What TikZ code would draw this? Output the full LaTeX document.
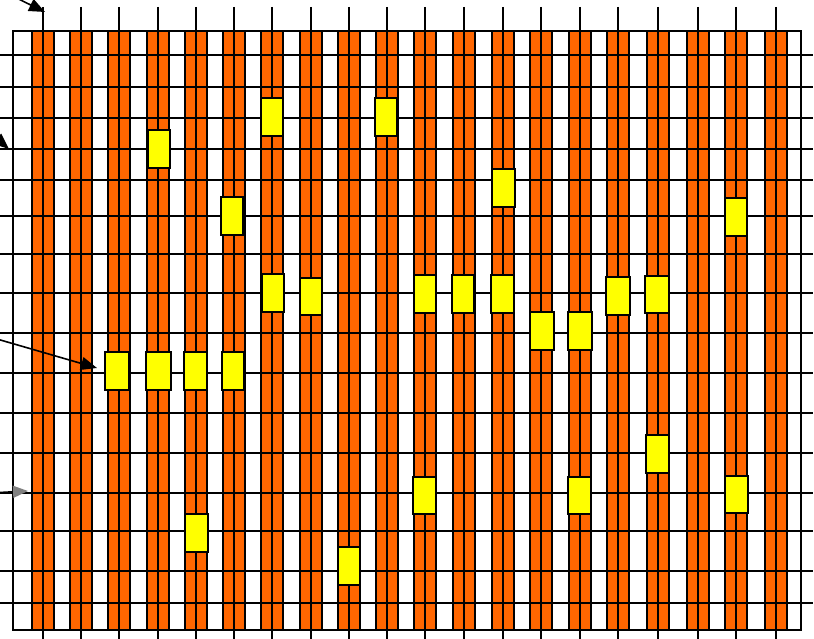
\documentclass[tikz,border=0pt]{standalone}
\usetikzlibrary{arrows.meta}
\definecolor{barorange}{HTML}{FF6600}
\definecolor{boxyellow}{HTML}{FFFF00}
\definecolor{headgray}{HTML}{808080}
\begin{document}
\begin{tikzpicture}[x=1pt,y=-1pt,
  bar/.style={fill=barorange,draw=black,line width=1.5pt},
  gridline/.style={draw=black,line width=2pt},
  ybox/.style={fill=boxyellow,draw=black,line width=1.5pt},
  pointer/.style={draw=black,line width=1.6pt,-{Triangle[length=16pt,width=13pt]}},
  graypointer/.style={draw=black,line width=1.6pt,-{Triangle[length=15pt,width=12pt,fill=headgray,color=headgray]}}]
\useasboundingbox (0,0) rectangle (814,639);
\clip (0,0) rectangle (814,639);
\fill[white] (0,0) rectangle (814,639);
% orange bars
\foreach \c in {43,81,119,158,196,234,272,311,349,387,425,464,503,541,580,618,658,698,736,776}
  \draw[bar] (\c-11,31) rectangle (\c+11,630);
% horizontal lines
\foreach \y in {55,87,118,149,180,216,254,293,333,373,413,453,493,531,571,603}
  \draw[gridline] (0,\y) -- (813,\y);
% outer frame
\draw[gridline] (13,31) rectangle (801,630);
% vertical centre lines with ticks
\foreach \c in {43,81,119,158,196,234,272,311,349,387,425,464,503,541,580,618,658,698,736,776}
  \draw[gridline] (\c,7) -- (\c,639);
% yellow boxes
\foreach \xa/\ya/\xb/\yb in {
  148/130/170/168, 261/98/283/136, 375/98/397/136, 221/197/243/235,
  492/169/515/207, 725/198/747/236, 262/274/284/312, 300/278/322/315,
  414/275/436/313, 452/275/474/313, 491/275/514/313, 530/312/554/350,
  568/312/592/350, 606/277/630/315, 645/276/669/313, 105/352/129/390,
  146/352/171/390, 184/352/207/390, 222/352/244/390, 646/435/669/473,
  413/477/436/514, 568/477/591/514, 725/476/748/513, 185/514/208/552,
  338/547/360/585}
  \draw[ybox] (\xa,\ya) rectangle (\xb,\yb);
% pointers
\coordinate (a1s) at (-12,-16);
\coordinate (a1e) at (45,12);
\coordinate (a2s) at (-31,115);
\coordinate (a2e) at (9,149);
\coordinate (a3s) at (-10,337);
\coordinate (a3e) at (97,368);
\coordinate (a4s) at (-10,493);
\coordinate (a4e) at (28,491);
\draw[pointer] (a1s) -- (a1e);
\draw[pointer] (a2s) -- (a2e);
\draw[pointer] (a3s) -- (a3e);
\draw[graypointer] (a4s) -- (a4e);
\end{tikzpicture}
\end{document}
